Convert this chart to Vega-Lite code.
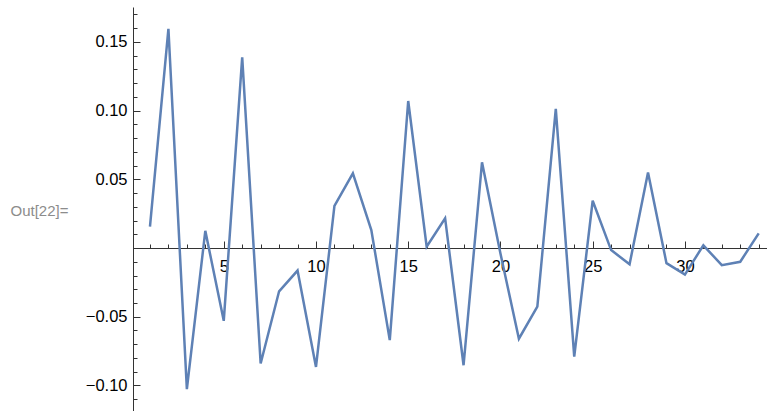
{
  "$schema": "https://vega.github.io/schema/vega-lite/v6.json",
  "width": 634,
  "height": 404,
  "autosize": "none",
  "padding": {"left": 133, "top": 7, "right": 0, "bottom": 0},
  "background": "white",
  "config": {
    "view": {"stroke": null},
    "axis": {"grid": false, "labelFont": "Liberation Sans", "labelFontSize": 16.5, "labelColor": "#000000", "domainColor": "#333333", "tickColor": "#333333"}
  },
  "data": {
    "values": [
      {"n": 1, "v": 0.0155}, {"n": 2, "v": 0.1595}, {"n": 3, "v": -0.1027}, {"n": 4, "v": 0.0125},
      {"n": 5, "v": -0.053}, {"n": 6, "v": 0.1387}, {"n": 7, "v": -0.084}, {"n": 8, "v": -0.0315},
      {"n": 9, "v": -0.0164}, {"n": 10, "v": -0.0865}, {"n": 11, "v": 0.0306}, {"n": 12, "v": 0.0544},
      {"n": 13, "v": 0.013}, {"n": 14, "v": -0.067}, {"n": 15, "v": 0.107}, {"n": 16, "v": 0.001},
      {"n": 17, "v": 0.0217}, {"n": 18, "v": -0.0853}, {"n": 19, "v": 0.0624}, {"n": 20, "v": -0.004},
      {"n": 21, "v": -0.066}, {"n": 22, "v": -0.0427}, {"n": 23, "v": 0.1013}, {"n": 24, "v": -0.079},
      {"n": 25, "v": 0.0344}, {"n": 26, "v": -0.0015}, {"n": 27, "v": -0.0118}, {"n": 28, "v": 0.055},
      {"n": 29, "v": -0.011}, {"n": 30, "v": -0.0193}, {"n": 31, "v": 0.002}, {"n": 32, "v": -0.0125},
      {"n": 33, "v": -0.01}, {"n": 34, "v": 0.0107}
    ]
  },
  "resolve": {"axis": {"x": "independent", "y": "independent"}},
  "layer": [
    {
      "mark": {"type": "line", "strokeOpacity": 0},
      "encoding": {
        "x": {"field": "n", "type": "quantitative", "scale": {"domain": [0.08, 34.45], "nice": false, "zero": false},
          "axis": {"title": null, "orient": "bottom", "offset": -163, "values": [1,2,3,4,5,6,7,8,9,10,11,12,13,14,15,16,17,18,19,20,21,22,23,24,25,26,27,28,29,30,31,32,33,34], "labels": false, "tickSize": -4, "domain": false}},
        "y": {"field": "v", "type": "quantitative", "scale": {"domain": [-0.1186, 0.1754], "nice": false, "zero": false},
          "axis": {"orient": "left", "title": "Out[22]=", "titleAngle": 0, "titleAlign": "left", "titleBaseline": "middle", "titleX": -123, "titleY": 203, "titleColor": "#8c8c8c", "titleFont": "Liberation Sans", "titleFontSize": 15, "titleFontWeight": "normal",
            "values": [-0.11,-0.1,-0.09,-0.08,-0.07,-0.06,-0.05,-0.04,-0.03,-0.02,-0.01,0,0.01,0.02,0.03,0.04,0.05,0.06,0.07,0.08,0.09,0.1,0.11,0.12,0.13,0.14,0.15,0.16,0.17], "labels": false, "tickSize": -4, "domain": false}}
      }
    },
    {
      "mark": {"type": "line", "color": "#5E81B5", "strokeWidth": 2.5, "strokeJoin": "miter"},
      "encoding": {
        "x": {"field": "n", "type": "quantitative",
          "axis": {"title": null, "orient": "bottom", "offset": -163, "values": [5,10,15,20,25,30], "format": "d", "tickSize": -7, "labelPadding": 17, "labelBaseline": "top"}},
        "y": {"field": "v", "type": "quantitative",
          "axis": {"orient": "left", "title": null, "values": [-0.1,-0.05,0.05,0.1,0.15], "format": ".2f", "tickSize": -7, "labelPadding": 13}}
      }
    }
  ]
}
